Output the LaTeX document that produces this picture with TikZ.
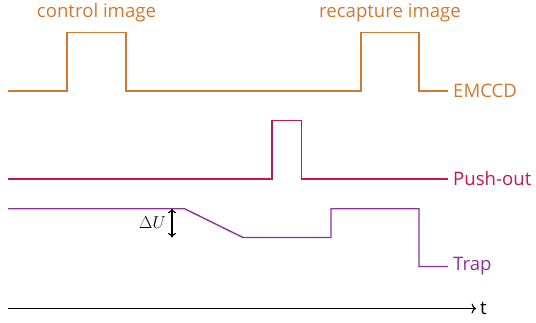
\documentclass[tikz,border=0pt]{standalone}
\usepackage{fontspec}
\setmainfont{Open Sans}
\usetikzlibrary{arrows.meta}
\definecolor{emc}{RGB}{212,120,45}
\definecolor{push}{RGB}{205,20,80}
\definecolor{trapc}{RGB}{140,50,160}
\begin{document}
\begin{tikzpicture}[x=1pt,y=-1pt,
  sig/.style={line width=1.4pt, line join=miter},
  lab/.style={font=\fontsize{18.6}{22}\selectfont, inner sep=5pt},
  ]
\useasboundingbox (0,0) rectangle (536,322);
% EMCCD
\node[lab, text=emc, anchor=west] (em) at (448,91) {EMCCD};
\node[lab, text=emc] (ci) at (96.5,13) {control image};
\node[lab, text=emc] (ri) at (390,13) {recapture image};
\draw[sig, emc] (8,91) -- (67,91) -- (67,32.5) -- (125.8,32.5) -- (125.8,91) -- (361,91) -- (361,32.5) -- (419,32.5) -- (419,91) -- (em.west);
% Push-out
\node[lab, text=push, anchor=west] (po) at (448,179) {Push-out};
\draw[sig, push] (8,179) -- (272,179) -- (272,120.7) -- (301.5,120.7) -- (301.5,179) -- (po.west);
% Trap
\node[lab, text=trapc, anchor=west] (tr) at (448,266.5) {Trap};
\draw[sig, trapc] (8,208.7) -- (184.5,208.7) -- (243,237.5) -- (331,237.5) -- (331,208.7) -- (419,208.7) -- (419,266.5) -- (tr.west);
% Delta U
\coordinate (ua) at (172,208.7);
\coordinate (ub) at (172,237.5);
\draw[line width=1.2pt, {To[length=4.5pt,width=8pt]}-{To[length=4.5pt,width=8pt]}] (ua) -- (ub);
\node[anchor=east, inner sep=1pt, font=\fontsize{19}{22}\selectfont] (du) at (167,223) {$\Delta U$};
% time axis
\node[lab, anchor=west, inner sep=4pt] (t) at (476,308.5) {t};
\draw[line width=1.1pt, -{To[length=4.5pt,width=10pt]}] (8,308.5) -- (t.west);
\end{tikzpicture}
\end{document}
